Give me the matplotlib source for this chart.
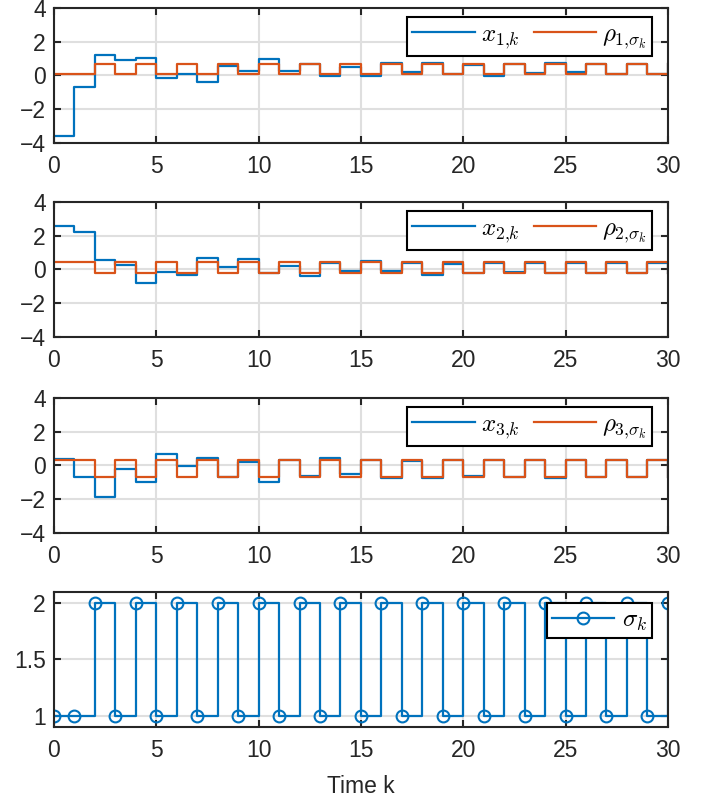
import matplotlib
matplotlib.use('Agg')
import matplotlib.pyplot as plt
import numpy as np

plt.rcParams['font.family'] = ['Liberation Sans', 'DejaVu Sans']
plt.rcParams['mathtext.fontset'] = 'cm'

# time steps
k = np.arange(0, 31)

# switching signal
sigma = [1, 1, 2, 1, 2, 1, 2, 1, 2, 1, 2, 1, 2, 1, 2, 1,
         2, 1, 2, 1, 2, 1, 2, 1, 2, 1, 2, 1, 2, 1, 2]

# states
x1 = [-3.6, -0.7, 1.2, 0.9, 1.06, -0.14, 0.06, -0.36, 0.54, 0.26, 0.96,
      0.26, 0.66, -0.06, 0.5, -0.02, 0.76, 0.22, 0.76, 0.06, 0.62, -0.02,
      0.66, 0.16, 0.74, 0.18, 0.66, 0.06, 0.66, 0.06, 0.66]
x2 = [2.55, 2.2, 0.55, 0.24, -0.82, -0.14, -0.3, 0.67, 0.16, 0.65, -0.2,
      0.22, -0.39, 0.39, -0.12, 0.53, -0.1, 0.4, -0.3, 0.32, -0.2, 0.4,
      -0.14, 0.4, -0.2, 0.4, -0.2, 0.4, -0.2, 0.4, -0.2]
x3 = [0.38, -0.67, -1.88, -0.22, -0.97, 0.69, -0.02, 0.44, -0.67, 0.2,
      -0.97, 0.34, -0.6, 0.44, -0.53, 0.34, -0.77, 0.24, -0.77, 0.34,
      -0.63, 0.34, -0.67, 0.34, -0.77, 0.34, -0.67, 0.34, -0.67, 0.34, -0.67]

# references (depend on active mode)
rho1 = [0.06, 0.06, 0.66, 0.06, 0.66, 0.06, 0.66, 0.06, 0.66, 0.06, 0.66,
        0.06, 0.66, 0.06, 0.66, 0.06, 0.66, 0.06, 0.66, 0.06, 0.66, 0.06,
        0.66, 0.06, 0.66, 0.06, 0.66, 0.06, 0.66, 0.06, 0.66]
rho2 = [0.42, 0.42, -0.2, 0.42, -0.2, 0.42, -0.2, 0.42, -0.2, 0.42, -0.2,
        0.42, -0.2, 0.42, -0.2, 0.42, -0.2, 0.42, -0.2, 0.42, -0.2, 0.42,
        -0.2, 0.42, -0.2, 0.42, -0.2, 0.42, -0.2, 0.42, -0.2]
rho3 = [0.34, 0.34, -0.67, 0.34, -0.67, 0.34, -0.67, 0.34, -0.67, 0.34,
        -0.67, 0.34, -0.67, 0.34, -0.67, 0.34, -0.67, 0.34, -0.67, 0.34,
        -0.67, 0.34, -0.67, 0.34, -0.67, 0.34, -0.67, 0.34, -0.67, 0.34, -0.67]

blue = '#0072BD'
orange = '#D95319'
axc = '#262626'

fig = plt.figure(figsize=(7.13, 8.05), dpi=100)
left, width = 0.0757, 0.861
bottoms = [0.8224, 0.5814, 0.3379, 0.0969]
h = 0.1677


def style(ax):
    for s in ax.spines.values():
        s.set_color(axc)
        s.set_linewidth(1.5)
    ax.tick_params(direction='in', length=5, width=1.5, colors=axc,
                   labelsize=16.5, top=True, right=True, pad=9)
    ax.tick_params(axis='y', pad=6)
    ax.grid(True, color='#dfdfdf', linewidth=1.5)
    ax.set_axisbelow(True)
    ax.set_xlim(0, 30)
    ax.set_xticks(np.arange(0, 31, 5))


xs = [x1, x2, x3]
rhos = [rho1, rho2, rho3]
for i in range(3):
    ax = fig.add_axes([left, bottoms[i], width, h])
    ax.step(k, xs[i], where='post', color=blue, lw=1.6,
            label=r'$x_{%d{,}k}$' % (i + 1))
    ax.step(k, rhos[i], where='post', color=orange, lw=1.6,
            label=r'$\rho_{%d{,}\sigma_k}$' % (i + 1))
    ax.set_ylim(-4, 4)
    ax.set_yticks([-4, -2, 0, 2, 4])
    style(ax)
    leg = ax.legend(loc='upper right', bbox_to_anchor=(0.974, 0.933),
                    ncol=2, fontsize=18, borderaxespad=0, fancybox=False,
                    framealpha=1, handlelength=2.5, columnspacing=0.55,
                    handletextpad=0.25, borderpad=0.2)
    leg.get_frame().set_edgecolor('black')
    leg.get_frame().set_linewidth(1.5)

ax = fig.add_axes([left, bottoms[3], width, h])
ax.step(k, sigma, where='post', color=blue, lw=1.6, marker='o', ms=8.5,
        mfc='none', mew=1.5, label=r'$\sigma_k$')
ax.set_ylim(0.9, 2.1)
ax.set_yticks([1, 1.5, 2])
ax.set_yticklabels(['1', '1.5', '2'])
style(ax)
ax.set_xlabel('Time k', fontsize=16.5, color=axc, labelpad=9)
leg = ax.legend(loc='upper right', bbox_to_anchor=(0.974, 0.919),
                fontsize=18, borderaxespad=0, fancybox=False, framealpha=1,
                handlelength=2.5, handletextpad=0.3, borderpad=0.2)
leg.get_frame().set_edgecolor('black')
leg.get_frame().set_linewidth(1.5)

plt.savefig('out.png', dpi=100)
